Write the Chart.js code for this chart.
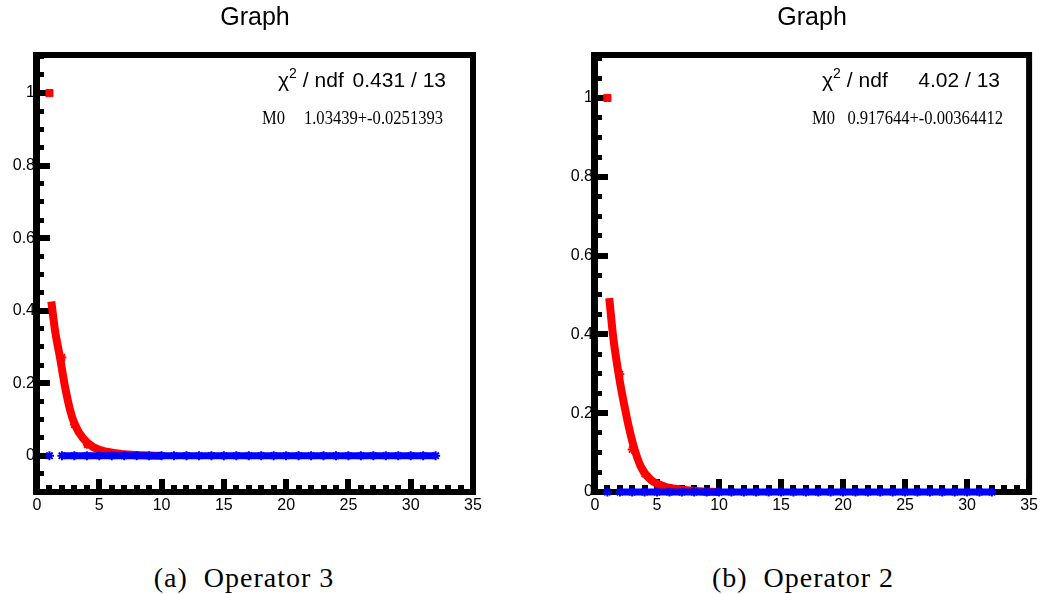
<!DOCTYPE html>
<html>
<head>
<meta charset="utf-8">
<script src="https://cdn.jsdelivr.net/npm/chart.js@4.4.1/dist/chart.umd.min.js"></script>
<style>
  body { margin: 0; background: #fff; width: 1042px; height: 594px; position: relative; overflow: hidden; }
  .panel { position: absolute; top: 0; height: 530px; }
  #leftBox { left: 0; width: 500px; }
  #rightBox { left: 556px; width: 486px; }
  .caption { position: absolute; top: 561px; font-family: "Liberation Serif", serif; font-size: 28px; letter-spacing: 1px; color: #000; width: 320px; text-align: center; line-height: 34px; white-space: pre; }
</style>
</head>
<body>
<div class="panel" id="leftBox"><canvas id="op3"></canvas></div>
<div class="panel" id="rightBox"><canvas id="op2"></canvas></div>
<div class="caption" style="left:84px">(a)  Operator 3</div>
<div class="caption" style="left:643px">(b)  Operator 2</div>
<script>
// x axis is shared by both graphs
var xRange = [0, 35];
var yMajor = [0, 0.2, 0.4, 0.6, 0.8, 1];

// Operator 3
var op3YRange = [-0.1, 1.105];
var op3PtsX = [1, 2, 3, 4];
var op3PtsY = [1, 0.271, 0.086, 0.03];
var op3FitX = [1.15, 1.45, 1.85, 2.25, 2.65, 3.05, 3.7, 4.5, 5.6, 7, 8.5, 10];
var op3FitY = [0.425, 0.345, 0.27, 0.19, 0.127, 0.085, 0.048, 0.024, 0.011, 0.004, 0.001, 0];
var op3ZeroX = [1, 2, 3, 4, 5, 6, 7, 8, 9, 10, 11, 12, 13, 14, 15, 16, 17, 18, 19, 20, 21, 22, 23, 24, 25, 26, 27, 28, 29, 30, 31, 32];
var op3ZeroY = [0, 0, 0, 0, 0, 0, 0, 0, 0, 0, 0, 0, 0, 0, 0, 0, 0, 0, 0, 0, 0, 0, 0, 0, 0, 0, 0, 0, 0, 0, 0, 0];
var op3Stats = ['0.431 / 13', '1.03439+-0.0251393'];

// Operator 2
var op2YRange = [0, 1.109];
var op2PtsX = [1, 2, 3, 4];
var op2PtsY = [1, 0.299, 0.108, 0.045];
var op2FitX = [1.15, 1.45, 1.9, 2.35, 2.75, 3.1, 3.7, 4.5, 5.6, 7, 8.5, 10];
var op2FitY = [0.492, 0.398, 0.3, 0.222, 0.162, 0.118, 0.064, 0.031, 0.014, 0.006, 0.002, 0];
var op2ZeroX = [1, 2, 3, 4, 5, 6, 7, 8, 9, 10, 11, 12, 13, 14, 15, 16, 17, 18, 19, 20, 21, 22, 23, 24, 25, 26, 27, 28, 29, 30, 31, 32];
var op2ZeroY = [0, 0, 0, 0, 0, 0, 0, 0, 0, 0, 0, 0, 0, 0, 0, 0, 0, 0, 0, 0, 0, 0, 0, 0, 0, 0, 0, 0, 0, 0, 0, 0];
var op2Stats = ['4.02 / 13', '0.917644+-0.00364412'];

var RED = '#ff0000';
var BLUE = '#0000ff';

function pairs(xs, ys){
  return xs.map(function(x, i){ return {x: x, y: ys[i]}; });
}

// thick frame with inward ticks, root style
var frame = {
  id: 'frame',
  beforeDatasetsDraw: function(chart){
    var ctx = chart.ctx, a = chart.chartArea;
    var sx = chart.scales.x, sy = chart.scales.y;
    ctx.save();
    ctx.fillStyle = '#000';
    // bottom axis ticks
    for (var v = Math.ceil(sx.min); v <= sx.max; v++) {
      var px = sx.getPixelForValue(v);
      var major = v % 5 === 0;
      var h = major ? 13 : 7;
      ctx.fillRect(Math.round(px - 3), a.bottom - h, 6, h);
    }
    // left axis ticks
    for (var k = Math.ceil(sy.min / 0.05 - 1e-6); k * 0.05 <= sy.max + 1e-9; k++) {
      var py = sy.getPixelForValue(k * 0.05);
      var big = k % 4 === 0;
      var len = big ? 13 : 7, th = big ? 6 : 5;
      ctx.fillRect(a.left, Math.round(py - th / 2), len, th);
    }
    ctx.lineWidth = 6;
    ctx.strokeStyle = '#000';
    ctx.strokeRect(a.left, a.top, a.right - a.left, a.bottom - a.top);
    ctx.fillRect(a.left - 4, a.top - 3, 2, a.bottom - a.top + 6);
    ctx.restore();
  },
  afterDraw: function(chart, args, opts){
    var ctx = chart.ctx;
    ctx.save();
    ctx.fillStyle = '#000';
    ctx.textBaseline = 'alphabetic';
    ctx.font = '21px "Liberation Sans"';
    ctx.textAlign = 'left';
    ctx.fillText('\u03c7', opts.nameX, opts.line1);
    var cw = ctx.measureText('\u03c7').width;
    ctx.font = '14px "Liberation Sans"';
    ctx.fillText('2', opts.nameX + cw, opts.line1 - 9);
    ctx.font = '21px "Liberation Sans"';
    ctx.fillText(' / ndf', opts.nameX + cw + 8, opts.line1);
    ctx.textAlign = 'right';
    ctx.fillText(opts.text[0], opts.valueX, opts.line1);
    // narrow times for the parameter line
    ctx.font = '18px "Liberation Serif"';
    ctx.scale(0.92, 1);
    ctx.textAlign = 'left';
    ctx.fillText('M0', opts.m0X / 0.92, opts.line2);
    ctx.textAlign = 'right';
    ctx.fillText(opts.text[1], opts.m0ValueX / 0.92, opts.line2);
    ctx.restore();
  }
};

function makeGraph(id, yRange, ptsX, ptsY, fitX, fitY, zeroX, zeroY, axisW, rightPad, box){
  return new Chart(document.getElementById(id), {
    type: 'scatter',
    data: {
      datasets: [{
        // fit curve
        data: pairs(fitX, fitY),
        showLine: true,
        borderColor: RED,
        borderWidth: 8,
        pointRadius: 0,
        cubicInterpolationMode: 'monotone',
        clip: false,
        order: 4
      }, {
        // first point on its own
        data: pairs(zeroX.slice(0, 1), zeroY.slice(0, 1)),
        showLine: false,
        borderColor: BLUE,
        backgroundColor: BLUE,
        pointStyle: 'star',
        pointRadius: 4.5,
        pointBorderWidth: 2,
        clip: false,
        order: 2
      }, {
        data: pairs(zeroX.slice(1), zeroY.slice(1)),
        showLine: true,
        borderColor: BLUE,
        backgroundColor: BLUE,
        borderWidth: 7,
        pointStyle: 'star',
        pointRadius: 4.5,
        pointBorderWidth: 2,
        clip: false,
        order: 3
      }, {
        data: pairs(ptsX, ptsY),
        showLine: false,
        borderColor: RED,
        backgroundColor: RED,
        pointStyle: ['rect', 'star', 'star', 'star'],
        pointRadius: [5, 4.5, 4.5, 4],
        pointBorderWidth: [1, 2, 2, 2],
        clip: false,
        order: 1
      }]
    },
    options: {
      responsive: true,
      maintainAspectRatio: false,
      animation: false,
      events: [],
      layout: { padding: { left: 0, right: rightPad, top: 0, bottom: 0 } },
      plugins: {
        legend: { display: false },
        tooltip: { enabled: false },
        title: {
          display: true,
          text: 'Graph',
          fullSize: false,
          color: '#000',
          font: { family: 'Liberation Sans', size: 25, weight: 'normal' },
          padding: { top: 3, bottom: 22 }
        },
        frame: box
      },
      scales: {
        x: {
          type: 'linear',
          min: xRange[0],
          max: xRange[1],
          grid: { display: false, drawTicks: false },
          border: { display: false },
          ticks: { stepSize: 5, padding: 4, color: '#000', font: { family: 'Liberation Sans', size: 16 } },
          afterFit: function(s){ s.height = 38; }
        },
        y: {
          type: 'linear',
          min: yRange[0],
          max: yRange[1],
          grid: { display: false, drawTicks: false },
          border: { display: false },
          afterBuildTicks: function(s){ s.ticks = yMajor.map(function(v){ return {value: v}; }); },
          ticks: {
            padding: 2,
            color: '#000',
            font: { family: 'Liberation Sans', size: 16 },
            callback: function(v){ return String(Math.round(v * 10) / 10); }
          },
          afterFit: function(s){ s.width = axisW; }
        }
      }
    },
    plugins: [frame]
  });
}

makeGraph('op3', op3YRange, op3PtsX, op3PtsY, op3FitX, op3FitY, op3ZeroX, op3ZeroY, 37, 27,
  { text: op3Stats, nameX: 278, valueX: 446, m0X: 262, m0ValueX: 443, line1: 87, line2: 124 });
makeGraph('op2', op2YRange, op2PtsX, op2PtsY, op2FitX, op2FitY, op2ZeroX, op2ZeroY, 39, 11,
  { text: op2Stats, nameX: 266, valueX: 444, m0X: 256, m0ValueX: 447, line1: 87, line2: 124 });
</script>
</body>
</html>
